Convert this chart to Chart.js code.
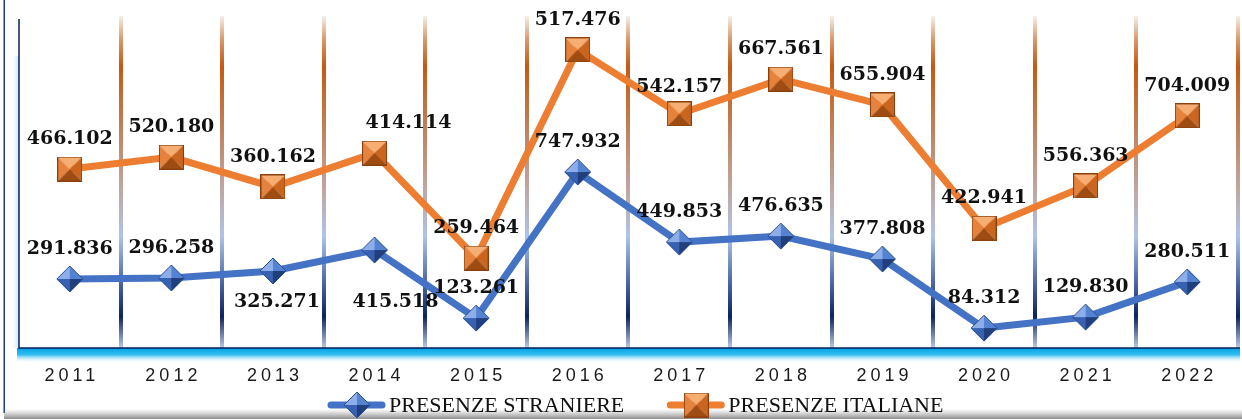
<!DOCTYPE html>
<html>
<head>
<meta charset="utf-8">
<script src="https://cdn.jsdelivr.net/npm/chart.js@4"></script>
<style>
  html, body { margin: 0; padding: 0; background: #fff; }
  #wrap { width: 1242px; height: 419px; position: relative; }
</style>
</head>
<body>
<div id="wrap"><canvas id="presenzeChart" width="1242" height="419"></canvas></div>
<script>
// dati
const anni = ['2011', '2012', '2013', '2014', '2015', '2016', '2017', '2018', '2019', '2020', '2021', '2022'];
const presenzeStraniere = [208, 211, 232, 295, 90, 530, 319, 337, 268, 60, 93, 199];
const presenzeItaliane = [539, 575, 485, 587, 271, 898, 705, 810, 732, 361, 488, 699];
const etichetteStraniere = ['291.836', '296.258', '325.271', '415.518', '123.261', '747.932', '449.853', '476.635', '377.808', '84.312', '129.830', '280.511'];
const etichetteItaliane = ['466.102', '520.180', '360.162', '414.114', '259.464', '517.476', '542.157', '667.561', '655.904', '422.941', '556.363', '704.009'];

// spostamento delle etichette rispetto al punto (default: sopra)
const spostamenti = [
  { 2: [4, 31], 3: [21, 52] },
  { 3: [34, -30], 6: [0, -27] }
];

// marker "a piramide"
function diamante(size) {
  const c = document.createElement('canvas');
  c.width = c.height = size;
  const g = c.getContext('2d');
  const m = size / 2, r = size / 2 - 1;
  const top = [m, m - r], right = [m + r, m], bottom = [m, m + r], left = [m - r, m], ctr = [m, m];
  const facce = [
    [[top, left, ctr], '#8eaeea'],
    [[top, right, ctr], '#5583d4'],
    [[left, bottom, ctr], '#3762b2'],
    [[right, bottom, ctr], '#213f7d']
  ];
  facce.forEach(([p, col]) => {
    g.beginPath();
    g.moveTo(p[0][0], p[0][1]); g.lineTo(p[1][0], p[1][1]); g.lineTo(p[2][0], p[2][1]);
    g.closePath(); g.fillStyle = col; g.fill();
  });
  g.beginPath();
  g.moveTo(top[0], top[1]); g.lineTo(right[0], right[1]); g.lineTo(bottom[0], bottom[1]); g.lineTo(left[0], left[1]);
  g.closePath(); g.strokeStyle = '#2c4f8f'; g.lineWidth = 1; g.stroke();
  return c;
}

function quadrato(size) {
  const c = document.createElement('canvas');
  c.width = c.height = size;
  const g = c.getContext('2d');
  const a = 0.5, b = size - 0.5, m = size / 2;
  const tl = [a, a], tr = [b, a], br = [b, b], bl = [a, b], ctr = [m, m];
  const facce = [
    [[tl, tr, ctr], '#f7ae72'],
    [[tl, bl, ctr], '#e5823c'],
    [[tr, br, ctr], '#c9651f'],
    [[bl, br, ctr], '#9f4c13']
  ];
  facce.forEach(([p, col]) => {
    g.beginPath();
    g.moveTo(p[0][0], p[0][1]); g.lineTo(p[1][0], p[1][1]); g.lineTo(p[2][0], p[2][1]);
    g.closePath(); g.fillStyle = col; g.fill();
  });
  g.strokeStyle = '#8a3f0c'; g.lineWidth = 1;
  g.strokeRect(a, a, size - 1, size - 1);
  return c;
}

const markerBlu = diamante(28);
const markerArancio = quadrato(25);

// sfondo: colonne sfumate, assi, cornice
const sfondoPlugin = {
  id: 'sfondo',
  beforeDatasetsDraw(chart) {
    const { ctx, chartArea: ca, scales: { x } } = chart;
    const passo = x.getPixelForValue(1) - x.getPixelForValue(0);
    ctx.save();

    // cornice
    ctx.fillStyle = '#1f3a7a';
    ctx.fillRect(3.5, 0, 1.5, 413);
    let gb = ctx.createLinearGradient(0, 409, 0, 419);
    gb.addColorStop(0, 'rgba(150,150,150,0)');
    gb.addColorStop(1, 'rgba(110,110,110,0.8)');
    ctx.fillStyle = gb;
    ctx.fillRect(4, 409, 1238, 10);

    // colonne
    const top = ca.top, bot = ca.bottom + 2;
    const gr = ctx.createLinearGradient(0, top, 0, bot);
    gr.addColorStop(0, '#f6efe9');
    gr.addColorStop(0.07, '#d79a6c');
    gr.addColorStop(0.15, '#c55a11');
    gr.addColorStop(0.3, '#c07a4c');
    gr.addColorStop(0.52, '#bfa7a3');
    gr.addColorStop(0.66, '#aec3e8');
    gr.addColorStop(0.8, '#4b66a4');
    gr.addColorStop(0.9, '#0d235e');
    gr.addColorStop(1, '#c9d5ec');
    for (let i = 0; i < anni.length; i++) {
      const xb = x.getPixelForValue(i) + passo / 2;
      ctx.fillStyle = gr;
      ctx.fillRect(Math.round(xb) - 2, top, 4, bot - top);
      ctx.fillStyle = '#c3cbdb';
      ctx.fillRect(Math.round(xb) - 2, ca.bottom + 1, 4, 3);
    }

    // bagliore asse x
    const gx = ctx.createLinearGradient(0, ca.bottom, 0, ca.bottom + 15);
    gx.addColorStop(0, '#00a3e6');
    gx.addColorStop(0.45, '#33bdf0');
    gx.addColorStop(1, 'rgba(255,255,255,0)');
    ctx.fillStyle = gx;
    ctx.fillRect(ca.left - 2, ca.bottom, ca.right - ca.left + 4, 15);

    // bagliore asse y
    const gy = ctx.createLinearGradient(ca.left - 6, 0, ca.left, 0);
    gy.addColorStop(0, 'rgba(160,215,245,0)');
    gy.addColorStop(1, 'rgba(160,215,245,0.6)');
    ctx.fillStyle = gy;
    ctx.fillRect(ca.left - 6, ca.top + 40, 6, ca.bottom - ca.top - 40);

    // linee assi
    ctx.strokeStyle = '#0a1f5c';
    ctx.lineWidth = 1.5;
    ctx.beginPath();
    ctx.moveTo(ca.left, ca.top + 3);
    ctx.lineTo(ca.left, ca.bottom);
    ctx.lineTo(ca.right + 2, ca.bottom);
    ctx.stroke();

    // etichette anni
    ctx.fillStyle = '#1a1a1a';
    ctx.font = '18px "Liberation Sans", Arial, sans-serif';
    ctx.textAlign = 'center';
    ctx.textBaseline = 'middle';
    ctx.letterSpacing = '4px';
    anni.forEach((a, i) => {
      ctx.fillText(a, x.getPixelForValue(i) + 2, 376);
    });
    ctx.restore();
  }
};

// etichette dei valori
const etichettePlugin = {
  id: 'etichette',
  afterDatasetsDraw(chart) {
    const { ctx } = chart;
    ctx.save();
    ctx.font = 'bold 19px "DejaVu Serif", Georgia, serif';
    ctx.fillStyle = '#111';
    ctx.textAlign = 'center';
    ctx.textBaseline = 'middle';
    chart.data.datasets.forEach((ds, di) => {
      const meta = chart.getDatasetMeta(di);
      const testi = di === 0 ? etichetteStraniere : etichetteItaliane;
      const spost = spostamenti[di];
      meta.data.forEach((pt, i) => {
        const d = spost[i] || [0, -30];
        ctx.fillText(testi[i], pt.x + d[0], pt.y + d[1]);
      });
    });
    ctx.restore();
  }
};

// legenda in basso
const legendaPlugin = {
  id: 'legenda',
  afterDraw(chart) {
    const { ctx } = chart;
    ctx.save();
    ctx.font = '22px "Liberation Serif", "Times New Roman", serif';
    ctx.textBaseline = 'middle';
    ctx.textAlign = 'left';
    let x0 = 328;
    const y = 405;
    chart.data.datasets.forEach(ds => {
      ctx.strokeStyle = ds.borderColor;
      ctx.lineWidth = 7;
      ctx.lineCap = 'round';
      ctx.beginPath();
      ctx.moveTo(x0 + 3, y);
      ctx.lineTo(x0 + 54, y);
      ctx.stroke();
      const img = ds.pointStyle;
      ctx.drawImage(img, x0 + 29 - img.width / 2, y - img.height / 2);
      ctx.fillStyle = '#111';
      ctx.fillText(ds.label, x0 + 61, y + 1);
      x0 += 61 + ctx.measureText(ds.label).width + 43;
    });
    ctx.restore();
  }
};

new Chart(document.getElementById('presenzeChart'), {
  type: 'line',
  data: {
    labels: anni,
    datasets: [{
      label: 'PRESENZE STRANIERE',
      data: presenzeStraniere,
      borderColor: '#4472c4',
      backgroundColor: '#4472c4',
      borderWidth: 7,
      pointStyle: markerBlu,
      tension: 0
    }, {
      label: 'PRESENZE ITALIANE',
      data: presenzeItaliane,
      borderColor: '#ed7d31',
      backgroundColor: '#ed7d31',
      borderWidth: 7,
      pointStyle: markerArancio,
      tension: 0
    }]
  },
  options: {
    responsive: false,
    animation: false,
    layout: { autoPadding: false, padding: { left: 19, right: 4, top: 16, bottom: 71 } },
    scales: {
      x: { display: false, offset: true },
      y: { display: false, min: 0, max: 1000 }
    },
    plugins: {
      legend: { display: false },
      tooltip: { enabled: false }
    }
  },
  plugins: [sfondoPlugin, etichettePlugin, legendaPlugin]
});
</script>
</body>
</html>
